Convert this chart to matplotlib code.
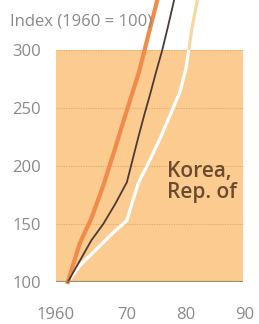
import matplotlib.pyplot as plt
from matplotlib.patches import Rectangle

plt.rcParams['font.family'] = ['Open Sans', 'DejaVu Sans']

# index values (1960 = 100)
orange_years = [1960, 1962, 1964, 1966, 1968, 1970, 1972, 1974, 1976]
orange_vals = [100, 133, 155, 183, 215, 248, 280, 320, 360]

dark_years = [1960, 1962, 1964, 1966, 1968, 1970, 1971, 1972, 1973, 1974, 1975, 1976, 1977, 1978, 1979]
dark_vals = [100, 118, 136, 150, 167, 186, 206, 226, 245, 263, 282, 300, 321, 343, 365]

white_years = [1960, 1962, 1964, 1966, 1968, 1970, 1971, 1972, 1974, 1976, 1978, 1979, 1980, 1981, 1982]
white_vals = [100, 114, 124, 134, 144, 153, 170, 186, 206, 228, 252, 264, 284, 318, 345]

xticks = [1960, 1970, 1980, 1990]
xtick_labels = ['1960', '70', '80', '90']
yticks = [100, 150, 200, 250, 300]

W, H = 259, 324
fig = plt.figure(figsize=(W / 100, H / 100), dpi=100)
ax = fig.add_axes([56 / W, (H - 282) / H, (245 - 56) / W, 282 / H])
ax.set_xlim(1958, 1990)
ax.set_ylim(100, 343)
ax.patch.set_alpha(0)
for s in ax.spines.values():
    s.set_visible(False)

# shaded panel
bg = Rectangle((1958, 100), 31.7, 200, facecolor='#fccb90', edgecolor='none', zorder=0)
ax.add_patch(bg)
for y in yticks[1:]:
    ax.plot([1958, 1989.7], [y, y], color='#e5a86c', lw=0.8, ls=(0, (1, 1.2)), zorder=1)
ax.plot([1958, 1989.7], [100, 100], color='#a4896b', lw=1.6, zorder=5, solid_capstyle='butt')

ax.plot(orange_years, orange_vals, color='#f28a4a', lw=3.0, zorder=3, clip_on=False)
ax.plot(dark_years, dark_vals, color='#4b3a36', lw=1.3, zorder=4, clip_on=False)
ax.plot(white_years, white_vals, color='#f6d9a2', lw=2.3, zorder=2, clip_on=False)
wl, = ax.plot(white_years, white_vals, color='white', lw=2.3, zorder=2.5)
wl.set_clip_path(bg)

# x labels: first one sits left of its tick
ax.set_xticks(xticks)
ax.set_xticklabels([''] + xtick_labels[1:])
ax.annotate(xtick_labels[0], xy=(xticks[0], 0), xycoords=ax.get_xaxis_transform(),
            xytext=(5, -18), textcoords='offset points', ha='right', va='top',
            fontsize=12, color='#8a8a8a')
ax.set_yticks(yticks)
ax.tick_params(length=0, labelsize=12, labelcolor='#8a8a8a')
ax.tick_params(axis='x', pad=18)
ax.tick_params(axis='y', pad=11)

fig.text(10 / W, 1 - 21 / H, 'Index (1960 = 100)', fontsize=12, color='#8a8a8a',
         ha='left', va='center')
ax.text(1976.8, 186, 'Korea,\nRep. of', fontsize=15, fontweight='semibold',
        color='#6b4a30', ha='left', va='center', linespacing=1.0, zorder=6)

fig.savefig('out.png', dpi=100)
